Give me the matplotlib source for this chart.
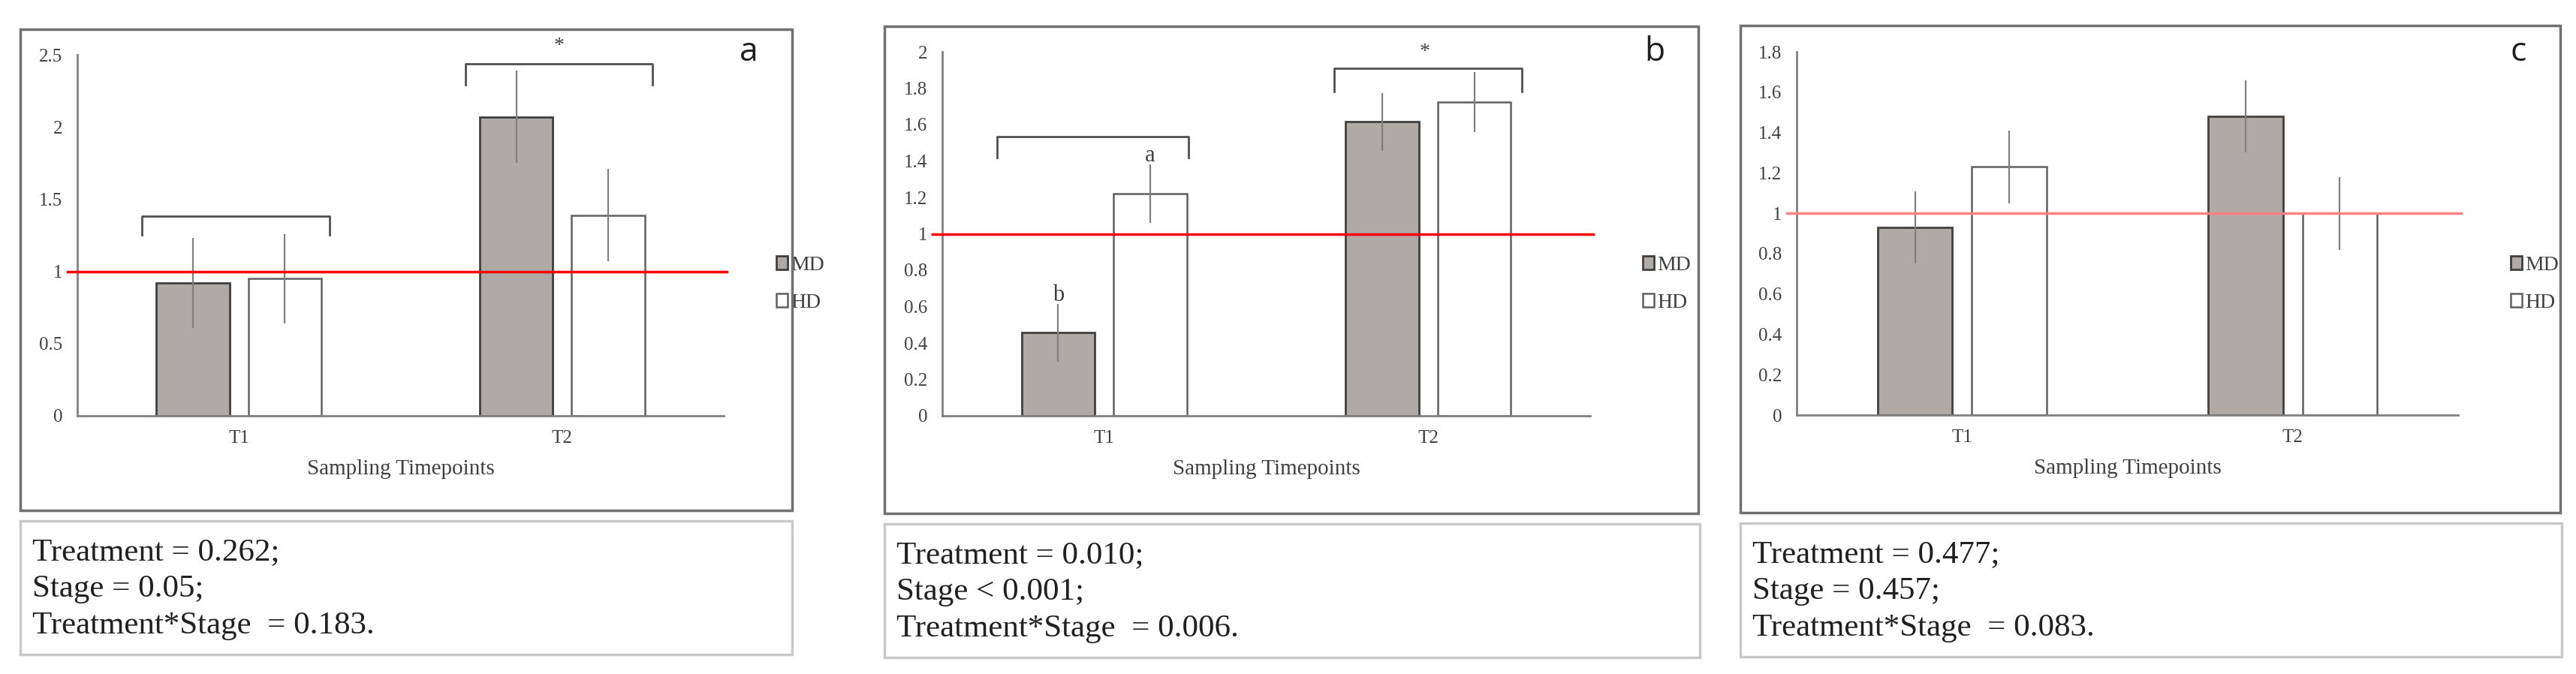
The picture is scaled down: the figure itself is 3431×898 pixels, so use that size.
import matplotlib
matplotlib.use("Agg")
import matplotlib.pyplot as plt
from matplotlib.patches import Rectangle
import numpy as np

W, H = 3431, 898
categories = ["T1", "T2"]
series = ["MD", "HD"]

a_md = [0.92, 2.07]; a_md_err = [0.31, 0.32]
a_hd = [0.95, 1.39]; a_hd_err = [0.31, 0.32]
b_md = [0.456, 1.615]; b_md_err = [0.16, 0.16]
b_hd = [1.22, 1.725]; b_hd_err = [0.16, 0.165]
c_md = [0.93, 1.48]; c_md_err = [0.18, 0.18]
c_hd = [1.23, 1.00]; c_hd_err = [0.18, 0.18]

stats_a = ["Treatment = 0.262;", "Stage = 0.05;", "Treatment*Stage  = 0.183."]
stats_b = ["Treatment = 0.010;", "Stage < 0.001;", "Treatment*Stage  = 0.006."]
stats_c = ["Treatment = 0.477;", "Stage = 0.457;", "Treatment*Stage  = 0.083."]

panels = [
    dict(label="a", md=a_md, mde=a_md_err, hd=a_hd, hde=a_hd_err, ymax=2.5, step=0.5,
         box=(27, 39, 1055, 680), tbox=(27, 694, 1055, 872), ax=(103, 73, 964, 554),
         red="#ff0000", stats=stats_a,
         brackets=[(0, -0.30, 0.28, 1.38, 1.25), (1, -0.30, 0.28, 2.44, 2.29)],
         stars=[(1, 2.56, "*")], letters=[]),
    dict(label="b", md=b_md, mde=b_md_err, hd=b_hd, hde=b_hd_err, ymax=2.0, step=0.2,
         box=(1178, 35, 2262, 684), tbox=(1178, 698, 2264, 876), ax=(1255, 69, 2118, 554),
         red="#ff0000", stats=stats_b,
         brackets=[(0, -0.33, 0.26, 1.535, 1.42), (1, -0.29, 0.29, 1.91, 1.78)],
         stars=[(1, 2.0, "*")], letters=[(0, -0.142, 0.66, "b"), (0, 0.142, 1.43, "a")]),
    dict(label="c", md=c_md, mde=c_md_err, hd=c_hd, hde=c_hd_err, ymax=1.8, step=0.2,
         box=(2318, 34, 3410, 683), tbox=(2318, 697, 3412, 875), ax=(2393, 69, 3274, 553),
         red="#ff8080", stats=stats_c, brackets=[], stars=[], letters=[]),
]

fig = plt.figure(figsize=(W / 100, H / 100), dpi=100)
serif = "Liberation Serif"

def fr(x0, y0, x1, y1):
    return [x0 / W, 1 - y1 / H, (x1 - x0) / W, (y1 - y0) / H]

for p in panels:
    for b, lw, ec in [(p["box"], 2.5, "#707070"), (p["tbox"], 2.5, "#c8c8c8")]:
        r = fr(*b)
        fig.patches.append(Rectangle((r[0], r[1]), r[2], r[3], transform=fig.transFigure,
                                     fill=False, ec=ec, lw=lw))
    ax = fig.add_axes(fr(*p["ax"]))
    x = np.arange(len(categories))
    bw = 0.226; off = 0.142
    ax.bar(x - off, p["md"], bw, color="#b0aaa7", edgecolor="#404040", lw=2, label="MD", zorder=2)
    ax.bar(x + off, p["hd"], bw, color="white", edgecolor="#606060", lw=1.8, label="HD", zorder=2)
    ax.errorbar(x - off, p["md"], yerr=p["mde"], fmt="none", ecolor="#808080", elinewidth=1.6, zorder=3)
    ax.errorbar(x + off, p["hd"], yerr=p["hde"], fmt="none", ecolor="#808080", elinewidth=1.6, zorder=3)
    ax.plot([-0.53, 1.51], [1, 1], color=p["red"], lw=2.5, clip_on=False, zorder=4)
    ax.set_xlim(-0.5, 1.5)
    ax.set_ylim(0, p["ymax"])
    ticks = np.arange(0, p["ymax"] + 1e-9, p["step"])
    ax.set_yticks(ticks)
    ax.set_yticklabels([f"{v:g}" for v in ticks])
    ax.set_xticks(x); ax.set_xticklabels(categories)
    ax.tick_params(length=0, labelsize=18, labelcolor="#404040", pad=14)
    for t in ax.get_xticklabels() + ax.get_yticklabels():
        t.set_family(serif)
    for s in ["top", "right"]:
        ax.spines[s].set_visible(False)
    for s in ["left", "bottom"]:
        ax.spines[s].set_color("#808080"); ax.spines[s].set_linewidth(2)
    ax.set_xlabel("Sampling Timepoints", family=serif, fontsize=21, color="#404040", labelpad=12)
    for ci, l, r, top, bot in p["brackets"]:
        ax.plot([ci + l, ci + l, ci + r, ci + r], [bot, top, top, bot], color="#505050", lw=2, clip_on=False)
    for ci, y, s in p["stars"]:
        ax.text(ci - 0.01, y, s, ha="center", va="center", family=serif, fontsize=20, color="#404040", clip_on=False)
    for ci, o, y, s in p["letters"]:
        ax.text(ci + o, y, s, ha="center", va="center", family=serif, fontsize=22, color="#404040")
    bx = p["box"]
    fig.text((bx[2] - 45) / W, 1 - 70 / H, p["label"], ha="right", va="center",
             family="Open Sans", fontsize=32, color="#202020")
    ax.legend(loc="upper left", bbox_to_anchor=((p["ax"][2] + 45) / W, 1 - 316 / H),
              bbox_transform=fig.transFigure, frameon=False,
              prop=dict(family=serif, size=20), labelcolor="#404040",
              handlelength=0.55, handleheight=0.6, handletextpad=0.15, labelspacing=0.9)
    tb = p["tbox"]
    for i, line in enumerate(p["stats"]):
        fig.text((tb[0] + 16) / W, 1 - (tb[1] + 42 + i * 49) / H, line, ha="left", va="center",
                 family=serif, fontsize=31, color="#202020")

fig.savefig("out.png", dpi=100)
